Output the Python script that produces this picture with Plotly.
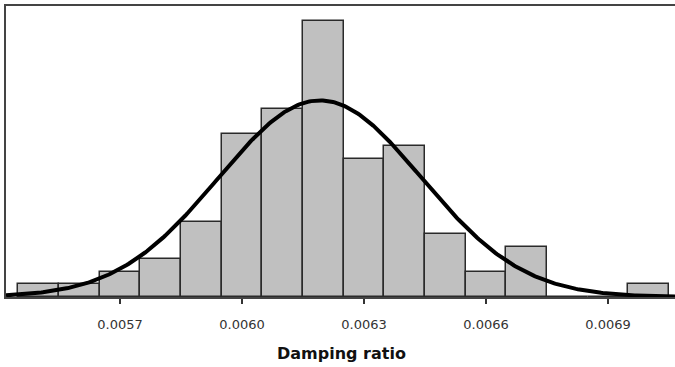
import numpy as np
import plotly.graph_objects as go

# Histogram data (bin centres and counts)
bin_centers = [0.0055, 0.0056, 0.0057, 0.0058, 0.0059, 0.0060, 0.0061, 0.0062,
               0.0063, 0.0064, 0.0065, 0.0066, 0.0067, 0.0068, 0.0069, 0.0070]
counts = [1, 1, 2, 3, 6, 13, 15, 22, 11, 12, 5, 2, 4, 0, 0, 1]
bin_width = 0.0001
tick_vals = [0.0057, 0.0060, 0.0063, 0.0066, 0.0069]
tick_text = ["0.0057", "0.0060", "0.0063", "0.0066", "0.0069"]
x_title = "Damping ratio"

# Fitted normal curve derived from the histogram data
c = np.array(counts, dtype=float)
xc = np.array(bin_centers)
n = c.sum()
mean = (c * xc).sum() / n
sd = np.sqrt((c * (xc - mean) ** 2).sum() / (n - 1))
x_range = [0.00541967, 0.00706475]
xs = np.linspace(x_range[0], x_range[1], 400)
ys = n * bin_width * np.exp(-0.5 * ((xs - mean) / sd) ** 2) / (sd * np.sqrt(2 * np.pi))

fig = go.Figure()
fig.add_trace(go.Bar(
    x=bin_centers, y=counts, width=bin_width,
    marker=dict(color="#c0c0c0", line=dict(color="#2a2a2a", width=1.5)),
    showlegend=False, hoverinfo="skip",
))
fig.add_trace(go.Scatter(
    x=xs, y=ys, mode="lines",
    line=dict(color="#000000", width=4),
    showlegend=False, hoverinfo="skip",
))

fig.update_layout(
    width=675, height=367,
    margin=dict(l=6, r=0, t=6, b=70),
    paper_bgcolor="white", plot_bgcolor="white",
    bargap=0,
    font=dict(family="DejaVu Sans, Verdana, sans-serif", color="#222"),
)
fig.update_xaxes(
    range=x_range,
    tickvals=tick_vals, ticktext=tick_text,
    ticks="outside", ticklen=5, tickwidth=1.5, tickcolor="#333",
    tickfont=dict(size=13, color="#333"),
    ticklabelstandoff=9,
    showline=True, linecolor="#444", linewidth=2, mirror=True,
    showgrid=False, zeroline=False,
)
fig.update_yaxes(
    range=[0, 23.2],
    showticklabels=False, ticks="",
    showline=True, linecolor="#444", linewidth=2, mirror=False,
    showgrid=False, zeroline=False,
)
fig.add_annotation(
    text=x_title, xref="paper", yref="paper",
    x=(341 - 6) / 669, y=-(353 - 297) / 291,
    xanchor="center", yanchor="middle", showarrow=False,
    font=dict(size=16, color="#111", family="DejaVu Sans, Verdana, sans-serif", weight="bold"),
)

fig.write_html(
    "out.html",
    config={"displayModeBar": False},
    post_script="document.body.style.margin='0';document.body.style.overflow='hidden';",
)
